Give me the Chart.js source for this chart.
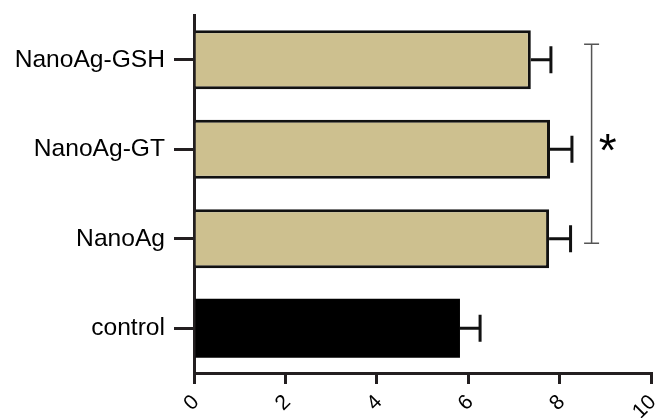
<!DOCTYPE html>
<html><head><meta charset="utf-8">
<script src="https://cdn.jsdelivr.net/npm/chart.js@4.4.0/dist/chart.umd.min.js"></script>
<style>html,body{margin:0;padding:0;background:#fff}#wrap{width:656px;height:418px}</style>
</head><body><div id="wrap"><canvas id="c" width="656" height="418"></canvas></div>
<script>
const categories = ["NanoAg-GSH", "NanoAg-GT", "NanoAg", "control"];
const means = [7.37, 7.79, 7.77, 5.82];
const errors = [0.44, 0.48, 0.47, 0.44];
const xTicks = [0, 2, 4, 6, 8, 10];
const barColors = ["#cdc08f", "#cdc08f", "#cdc08f", "#000000"];
const sig = { from: 0, to: 2, x: 8.7, label: "*" };

const errorBars = {
  id: 'errorBars',
  afterDatasetsDraw(chart) {
    const ctx = chart.ctx, xs = chart.scales.x, ys = chart.scales.y;
    ctx.save();
    ctx.strokeStyle = '#111';
    ctx.lineWidth = 3;
    means.forEach((m, i) => {
      const y = ys.getPixelForValue(i);
      const x0 = xs.getPixelForValue(m), x1 = xs.getPixelForValue(m + errors[i]);
      ctx.beginPath();
      ctx.moveTo(x0, y); ctx.lineTo(x1, y);
      ctx.moveTo(x1, y - 13.5); ctx.lineTo(x1, y + 13.5);
      ctx.stroke();
    });
    // significance bracket
    const bx = xs.getPixelForValue(sig.x);
    const yTop = ys.getPixelForValue(sig.from) - 15.5;
    const yBot = ys.getPixelForValue(sig.to) + 4.5;
    ctx.strokeStyle = '#555';
    ctx.lineWidth = 1.5;
    ctx.beginPath();
    ctx.moveTo(bx, yTop); ctx.lineTo(bx, yBot);
    ctx.moveTo(bx - 7.5, yTop); ctx.lineTo(bx + 7.5, yTop);
    ctx.moveTo(bx - 7.5, yBot); ctx.lineTo(bx + 7.5, yBot);
    ctx.stroke();
    ctx.fillStyle = '#000';
    ctx.font = '46px "Liberation Sans", Arial, sans-serif';
    ctx.textAlign = 'center';
    ctx.textBaseline = 'middle';
    ctx.fillText(sig.label, bx + 16, (yTop + yBot) / 2 + 10);
    ctx.restore();
  }
};

new Chart(document.getElementById('c'), {
  type: 'bar',
  data: {
    labels: categories,
    datasets: [{
      data: means,
      backgroundColor: barColors,
      borderColor: '#111',
      borderWidth: [3, 3, 3, 0],
      borderSkipped: 'start',
      barPercentage: 0.66,
      categoryPercentage: 1.0
    }]
  },
  options: {
    indexAxis: 'y',
    responsive: false,
    animation: false,
    devicePixelRatio: 1,
    layout: { padding: { top: 15, right: 5, left: 0, bottom: 0 } },
    plugins: { legend: { display: false }, tooltip: { enabled: false } },
    scales: {
      x: {
        min: 0, max: 10,
        afterBuildTicks(scale) { scale.ticks = xTicks.map(v => ({ value: v })); },
        afterFit(scale) { scale.height = 45; scale.paddingLeft = 0; scale.paddingRight = 0; },
        grid: { drawOnChartArea: false, drawTicks: true, tickLength: 11, color: '#231f20', lineWidth: 3 },
        border: { display: true, color: '#231f20', width: 3 },
        ticks: { minRotation: 45, maxRotation: 45, padding: 6, labelOffset: 2, color: '#000',
          font: { family: '"Liberation Sans", Arial, sans-serif', size: 21 } }
      },
      y: {
        afterFit(scale) { scale.width = 194; scale.paddingTop = 0; scale.paddingBottom = 0; },
        grid: { offset: false, drawOnChartArea: false, drawTicks: true, tickLength: 20, color: '#231f20', lineWidth: 3 },
        border: { display: true, color: '#231f20', width: 3 },
        ticks: { padding: 9, color: '#000',
          font: { family: '"Liberation Sans", Arial, sans-serif', size: 24.6 } }
      }
    }
  },
  plugins: [errorBars]
});
</script></body></html>
